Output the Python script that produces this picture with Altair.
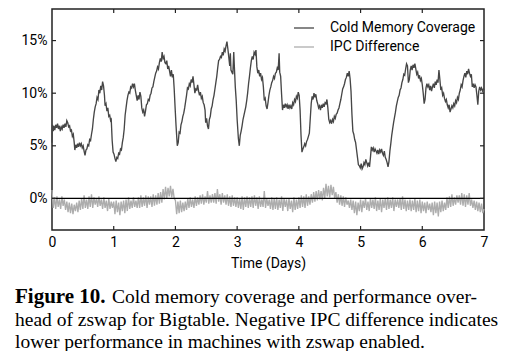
import altair as alt
import pandas as pd

# ---------------- data ----------------
# Cold memory coverage (%), (day, value) pairs
COLD = [
    (0.000, 5.3), (0.008, 7.0), (0.020, 6.4), (0.030, 6.9), (0.045, 6.5), (0.060, 7.0),
    (0.075, 6.7), (0.090, 7.1), (0.105, 6.6), (0.120, 6.9), (0.135, 6.4), (0.150, 6.8),
    (0.165, 6.6), (0.180, 7.0), (0.195, 6.7), (0.210, 7.1), (0.225, 6.8), (0.240, 7.4),
    (0.255, 7.2), (0.270, 6.8), (0.285, 6.9), (0.300, 6.4), (0.315, 6.5), (0.330, 5.9),
    (0.345, 6.1), (0.360, 5.3), (0.370, 4.6), (0.385, 5.1), (0.400, 4.8), (0.415, 5.2),
    (0.430, 4.9), (0.445, 5.3), (0.460, 5.0), (0.475, 5.2), (0.490, 4.8), (0.505, 5.0),
    (0.520, 4.5), (0.535, 4.1), (0.550, 4.6), (0.565, 4.7), (0.580, 5.1), (0.595, 5.0),
    (0.610, 5.6), (0.625, 5.5), (0.640, 6.1), (0.655, 6.6), (0.670, 7.5), (0.685, 8.2),
    (0.700, 8.7), (0.715, 9.0), (0.730, 9.6), (0.745, 9.4), (0.760, 10.3), (0.775, 10.0),
    (0.790, 10.7), (0.805, 10.3), (0.820, 11.1), (0.835, 10.7), (0.850, 9.8), (0.860, 8.8),
    (0.875, 9.0), (0.890, 8.3), (0.905, 8.6), (0.920, 7.8), (0.935, 7.9), (0.950, 7.4),
    (0.960, 7.5), (0.975, 5.5), (0.990, 4.4), (1.005, 4.2), (1.020, 3.8), (1.035, 3.5),
    (1.050, 3.9), (1.065, 3.8), (1.080, 4.3), (1.095, 4.2), (1.110, 4.7), (1.125, 4.6),
    (1.140, 5.3), (1.155, 5.8), (1.170, 6.6), (1.185, 7.9), (1.200, 8.6), (1.215, 9.3),
    (1.230, 9.8), (1.245, 10.1), (1.260, 10.0), (1.275, 10.6), (1.290, 10.5), (1.305, 10.9),
    (1.320, 10.6), (1.335, 10.9), (1.350, 10.3), (1.365, 9.8), (1.380, 9.3), (1.395, 9.8),
    (1.410, 9.4), (1.425, 10.1), (1.440, 9.7), (1.455, 8.6), (1.470, 8.2), (1.485, 8.4),
    (1.500, 7.8), (1.515, 8.3), (1.530, 8.9), (1.545, 9.0), (1.560, 9.4), (1.575, 9.3),
    (1.590, 9.8), (1.605, 10.0), (1.620, 10.5), (1.635, 10.6), (1.650, 11.1), (1.665, 11.5),
    (1.680, 11.9), (1.695, 12.1), (1.710, 12.5), (1.725, 12.3), (1.740, 12.9), (1.755, 13.3),
    (1.770, 13.0), (1.785, 13.9), (1.800, 13.3), (1.815, 13.5), (1.830, 12.9), (1.845, 12.8),
    (1.860, 13.1), (1.875, 12.3), (1.890, 12.6), (1.905, 12.1), (1.920, 11.6), (1.935, 12.2),
    (1.950, 11.5), (1.965, 11.8), (1.980, 10.4), (1.995, 8.6), (2.010, 6.9), (2.030, 5.0),
    (2.045, 5.3), (2.060, 6.3), (2.075, 6.2), (2.090, 7.0), (2.105, 7.3), (2.120, 7.8),
    (2.135, 8.1), (2.150, 8.6), (2.165, 9.2), (2.180, 9.8), (2.195, 10.5), (2.210, 10.4),
    (2.225, 10.9), (2.240, 10.7), (2.255, 11.3), (2.270, 11.0), (2.285, 11.6), (2.300, 10.8),
    (2.315, 10.0), (2.330, 10.4), (2.345, 10.3), (2.360, 10.8), (2.375, 10.2), (2.390, 9.8),
    (2.405, 10.1), (2.420, 9.5), (2.435, 9.7), (2.450, 9.1), (2.465, 8.9), (2.480, 8.4),
    (2.490, 7.2), (2.505, 7.6), (2.520, 6.9), (2.535, 6.6), (2.550, 7.5), (2.565, 7.8),
    (2.580, 8.5), (2.595, 8.8), (2.610, 9.4), (2.625, 9.8), (2.640, 10.4), (2.655, 11.0),
    (2.670, 11.6), (2.685, 12.4), (2.700, 13.1), (2.715, 13.2), (2.730, 13.5), (2.745, 13.4),
    (2.760, 13.9), (2.775, 13.6), (2.790, 14.2), (2.805, 14.0), (2.820, 14.5), (2.835, 14.9),
    (2.850, 14.2), (2.865, 13.4), (2.880, 12.6), (2.890, 13.8), (2.900, 12.2), (2.915, 12.0),
    (2.930, 11.8), (2.945, 13.9), (2.955, 12.5), (2.970, 10.6), (2.985, 9.3), (3.000, 7.5),
    (3.020, 5.7), (3.035, 5.0), (3.050, 6.0), (3.065, 6.4), (3.080, 6.9), (3.095, 7.5),
    (3.110, 7.9), (3.125, 8.3), (3.140, 8.7), (3.155, 9.3), (3.170, 10.0), (3.185, 10.9),
    (3.200, 11.6), (3.215, 12.4), (3.230, 13.1), (3.245, 13.5), (3.260, 13.2), (3.275, 13.9),
    (3.290, 13.7), (3.305, 14.1), (3.320, 12.5), (3.335, 11.9), (3.350, 12.2), (3.365, 11.6),
    (3.380, 11.9), (3.395, 11.3), (3.410, 11.5), (3.425, 10.6), (3.440, 9.3), (3.455, 9.5),
    (3.470, 8.8), (3.485, 8.5), (3.500, 9.1), (3.515, 9.8), (3.530, 10.3), (3.545, 10.6),
    (3.560, 11.0), (3.575, 11.2), (3.590, 11.6), (3.605, 11.4), (3.620, 11.9), (3.635, 12.0),
    (3.650, 12.4), (3.665, 12.2), (3.680, 13.8), (3.690, 12.0), (3.705, 11.6), (3.720, 9.9),
    (3.735, 8.4), (3.750, 8.9), (3.765, 8.6), (3.780, 9.0), (3.795, 8.7), (3.810, 8.9),
    (3.825, 8.5), (3.840, 8.9), (3.855, 8.6), (3.870, 8.8), (3.885, 8.5), (3.900, 9.1),
    (3.915, 8.9), (3.930, 9.4), (3.945, 9.2), (3.960, 9.7), (3.975, 9.5), (3.990, 10.1),
    (4.005, 9.8), (4.020, 8.4), (4.035, 6.0), (4.050, 4.4), (4.065, 4.7), (4.080, 4.9),
    (4.095, 5.2), (4.110, 5.0), (4.125, 5.4), (4.140, 5.6), (4.155, 5.9), (4.170, 6.2),
    (4.185, 7.6), (4.200, 9.0), (4.215, 9.7), (4.230, 9.4), (4.245, 10.0), (4.260, 9.6),
    (4.275, 9.9), (4.290, 9.3), (4.305, 9.0), (4.320, 8.6), (4.335, 8.8), (4.350, 8.4),
    (4.365, 8.9), (4.380, 8.6), (4.395, 9.0), (4.410, 8.7), (4.425, 9.1), (4.440, 9.0),
    (4.455, 9.4), (4.470, 8.6), (4.485, 7.5), (4.500, 7.2), (4.515, 7.4), (4.530, 7.1),
    (4.545, 7.5), (4.560, 7.3), (4.575, 7.8), (4.590, 7.6), (4.605, 8.0), (4.620, 8.1),
    (4.635, 8.4), (4.650, 8.6), (4.665, 9.0), (4.680, 9.4), (4.695, 9.9), (4.710, 10.4),
    (4.725, 10.6), (4.740, 10.9), (4.755, 11.3), (4.770, 11.5), (4.785, 11.9), (4.800, 11.6),
    (4.815, 12.1), (4.830, 11.4), (4.845, 10.2), (4.860, 8.0), (4.875, 6.4), (4.890, 6.1),
    (4.905, 5.6), (4.920, 5.3), (4.935, 4.6), (4.950, 3.9), (4.965, 3.2), (4.980, 3.1),
    (4.995, 2.9), (5.010, 3.3), (5.025, 2.8), (5.040, 3.0), (5.055, 3.4), (5.070, 3.2),
    (5.085, 3.7), (5.100, 3.4), (5.115, 3.1), (5.130, 3.4), (5.145, 3.0), (5.160, 3.9),
    (5.175, 4.9), (5.190, 4.6), (5.205, 4.8), (5.220, 4.4), (5.235, 4.7), (5.250, 4.5),
    (5.265, 4.3), (5.280, 4.6), (5.295, 4.2), (5.310, 4.6), (5.325, 4.4), (5.340, 4.7),
    (5.355, 4.3), (5.370, 4.1), (5.385, 4.5), (5.400, 3.9), (5.415, 3.7), (5.430, 3.4),
    (5.445, 3.0), (5.460, 3.5), (5.475, 4.5), (5.490, 5.2), (5.505, 6.0), (5.520, 6.6),
    (5.535, 7.2), (5.550, 7.7), (5.565, 8.2), (5.580, 8.8), (5.595, 9.2), (5.610, 9.6),
    (5.625, 9.8), (5.640, 10.3), (5.655, 10.5), (5.670, 11.0), (5.685, 11.3), (5.700, 11.8),
    (5.715, 11.7), (5.730, 12.3), (5.745, 12.8), (5.760, 12.6), (5.775, 11.0), (5.790, 11.3),
    (5.805, 12.2), (5.820, 12.6), (5.835, 12.2), (5.850, 12.7), (5.865, 12.4), (5.880, 12.8),
    (5.895, 12.3), (5.910, 11.8), (5.925, 12.0), (5.940, 11.4), (5.955, 11.7), (5.970, 11.2),
    (5.985, 11.4), (6.000, 10.8), (6.015, 10.0), (6.030, 9.0), (6.045, 9.4), (6.060, 10.5),
    (6.075, 10.9), (6.090, 10.6), (6.105, 10.8), (6.120, 10.3), (6.135, 10.7), (6.150, 10.2),
    (6.165, 10.6), (6.180, 10.9), (6.195, 10.5), (6.210, 11.1), (6.225, 10.8), (6.240, 11.3),
    (6.255, 11.0), (6.270, 12.2), (6.285, 11.3), (6.300, 10.3), (6.315, 10.5), (6.330, 9.8),
    (6.345, 10.0), (6.360, 9.5), (6.375, 9.2), (6.390, 9.4), (6.405, 8.9), (6.420, 8.6),
    (6.435, 8.9), (6.450, 8.2), (6.465, 8.5), (6.480, 8.8), (6.495, 8.6), (6.510, 9.0),
    (6.525, 8.8), (6.540, 9.3), (6.555, 9.1), (6.570, 9.6), (6.585, 9.4), (6.600, 10.0),
    (6.615, 10.3), (6.630, 10.8), (6.645, 10.6), (6.660, 11.2), (6.675, 11.6), (6.690, 11.9),
    (6.705, 11.5), (6.720, 12.1), (6.735, 11.8), (6.750, 12.3), (6.765, 11.9), (6.780, 11.6),
    (6.795, 11.8), (6.810, 10.6), (6.825, 10.9), (6.840, 10.5), (6.855, 10.8), (6.870, 10.6),
    (6.885, 9.8), (6.900, 8.9), (6.915, 10.2), (6.930, 10.6), (6.945, 10.3), (6.960, 10.5),
    (6.975, 10.2), (6.990, 10.4), (7.000, 10.3),
]

# IPC difference (%), sampled every IPC_STEP days from day 0
IPC_STEP = 0.02
IPC = [
    0.8, -0.9, 0.1, -1.0, 0.2, -0.8, -0.1, -1.0, 0.2, -0.7,
    -0.1, -1.1, -0.3, -1.3, -0.4, -1.4, -0.5, -1.5, -0.6, -1.2,
    -0.4, -1.3, -0.2, -1.1, 0.0, -1.0, 0.3, -0.9, -0.1, -1.0,
    0.2, -0.8, 0.4, -0.9, 0.1, -0.6, 0.0, -0.8, 0.2, -0.7,
    -0.1, -1.0, 0.1, -0.9, -0.2, -1.2, 0.0, -1.0, -0.3, -0.9,
    -0.3, -1.5, -0.2, -1.3, -0.4, -1.6, -0.3, -1.2, -0.2, -1.4,
    -0.1, -1.2, 0.1, -1.0, -0.2, -0.9, 0.1, -0.8, -0.2, -0.9,
    0.1, -0.9, 0.3, -0.8, 0.1, -0.7, 0.3, -0.9, 0.2, -0.6,
    0.2, -0.8, 0.4, -0.7, 0.3, -0.6, 0.5, -0.5, 0.6, -0.4,
    0.9, -0.1, 1.1, 0.0, 1.0, 0.2, 1.2, 0.1, 0.9, 0.0,
    -0.2, -1.5, -0.3, -1.4, -0.2, -1.3, -0.4, -1.2, -0.3, -1.1,
    0.0, -0.9, 0.1, -0.8, -0.1, -0.9, 0.2, -0.7, 0.1, -0.6,
    0.3, -0.5, 0.4, -0.6, 0.2, -0.4, 0.7, -0.5, 0.3, -0.4,
    0.4, -0.4, 0.5, -0.5, 0.9, -0.3, 0.4, -0.6, 0.5, -0.4,
    0.3, -0.6, 0.4, -0.7, 0.2, -0.8, 0.3, -0.7, 0.1, -0.8,
    0.1, -0.9, 0.0, -1.0, 0.2, -1.1, 0.1, -0.8, 0.2, -0.9,
    0.1, -0.8, 0.2, -0.9, 0.3, -0.7, 0.1, -1.0, 0.2, -0.8,
    -0.1, -0.8, 0.7, -0.9, 0.0, -0.7, -0.1, -1.0, 0.1, -1.1,
    0.0, -1.0, 0.1, -1.1, -0.1, -0.9, 0.2, -1.2, 0.0, -0.8,
    -0.1, -1.2, 0.0, -1.0, -0.2, -1.3, 0.1, -1.1, -0.1, -1.0,
    0.1, -0.9, 0.3, -0.8, 0.2, -0.9, 0.4, -0.7, 0.2, -0.6,
    0.4, -0.4, 0.6, -0.3, 0.7, -0.2, 0.8, -0.1, 0.7, -0.2,
    1.0, 0.0, 1.4, 0.2, 1.2, 0.1, 1.3, 0.3, 1.1, 0.0,
    0.6, -0.4, 0.4, -0.6, 0.3, -0.7, 0.2, -0.8, 0.1, -0.6,
    -0.2, -0.9, -0.1, -1.1, -0.2, -1.4, -0.3, -1.6, -0.4, -1.2,
    -0.1, -1.3, -0.2, -0.9, 0.0, -1.1, -0.3, -1.2, 0.0, -0.9,
    -0.1, -1.0, 0.1, -1.2, -0.2, -1.1, 0.0, -1.3, -0.1, -0.9,
    0.0, -1.1, 0.1, -1.0, -0.1, -0.9, 0.1, -1.2, -0.1, -0.8,
    -0.1, -0.9, 0.0, -1.1, 0.2, -1.0, -0.1, -1.2, -0.2, -1.1,
    -0.1, -1.2, -0.2, -1.1, 0.0, -1.3, -0.2, -1.2, -0.1, -1.4,
    -0.3, -1.2, -0.4, -1.4, -0.3, -1.1, -0.5, -1.3, -0.4, -1.6,
    -0.3, -1.4, -0.4, -1.7, -0.3, -1.3, -0.2, -1.2, -0.4, -1.1,
    0.1, -0.9, 0.2, -0.8, 0.4, -0.7, 0.1, -0.6, 0.3, -0.4,
    0.3, -0.6, 0.5, -0.7, 0.4, -0.8, 0.3, -0.6, 0.5, -0.7,
    -0.1, -0.9, -0.2, -1.1, -0.3, -1.2, -0.4, -1.3, -0.5, -1.4,
    -1.0,
]

SERIES = ["Cold Memory Coverage", "IPC Difference"]
COLORS = ["#464646", "#adadad"]
X_TICKS = [0, 1, 2, 3, 4, 5, 6, 7]
Y_TICKS = [0, 5, 10, 15]
X_DOMAIN = [0, 7]
Y_DOMAIN = [-3, 18]

CAPTION_BOLD = "Figure 10."
CAPTION_1 = "Cold memory coverage and performance over-"
CAPTION_2 = "head of zswap for Bigtable. Negative IPC difference indicates"
CAPTION_3 = "lower performance in machines with zswap enabled."

# ---------------- chart ----------------
W, H = 432, 221
TICK = 4

cold_df = pd.DataFrame(COLD, columns=["day", "pct"])
cold_df["series"] = SERIES[0]
ipc_df = pd.DataFrame({"day": [round(i * IPC_STEP, 4) for i in range(len(IPC))], "pct": IPC})
ipc_df["series"] = SERIES[1]
lines_df = pd.concat([cold_df, ipc_df], ignore_index=True)

x_scale = alt.Scale(domain=X_DOMAIN, nice=False, zero=False)
y_scale = alt.Scale(domain=Y_DOMAIN, nice=False, zero=False)
x_axis = alt.Axis(values=X_TICKS, format="d", ticks=False, domain=False, grid=False,
                  labelFlush=False, labelPadding=5, title="Time (Days)", titlePadding=7)
y_axis = alt.Axis(values=Y_TICKS, labelExpr="datum.value + '%'", ticks=False, domain=False,
                  grid=False, labelPadding=5, title=None)

X = lambda: alt.X("day:Q", scale=x_scale, axis=x_axis)
Y = lambda: alt.Y("pct:Q", scale=y_scale, axis=y_axis)

lines = alt.Chart(lines_df).mark_line(strokeWidth=1.35).encode(
    x=X(), y=Y(),
    color=alt.Color("series:N", scale=alt.Scale(domain=SERIES, range=COLORS),
                    legend=alt.Legend(title=None, orient="none", legendX=241, legendY=8,
                                      symbolType="stroke", symbolSize=400, symbolStrokeWidth=1.3,
                                      labelFont="Roboto", labelFontSize=14, labelColor="black",
                                      labelOffset=15, rowPadding=1, padding=0)),
    order="day:Q",
)

zero = alt.Chart(pd.DataFrame({"pct": [0]})).mark_rule(color="black", strokeWidth=1.3).encode(y=Y())

xt = pd.DataFrame({"day": X_TICKS[1:-1]})
yt = pd.DataFrame({"pct": Y_TICKS})
tick_style = dict(color="#222222", strokeWidth=1.2)
ticks_bottom = alt.Chart(xt).mark_rule(**tick_style).encode(x=X(), y=alt.value(H), y2=alt.value(H - TICK))
ticks_top = alt.Chart(xt).mark_rule(**tick_style).encode(x=X(), y=alt.value(0), y2=alt.value(TICK))
ticks_left = alt.Chart(yt).mark_rule(**tick_style).encode(y=Y(), x=alt.value(0), x2=alt.value(TICK))
ticks_right = alt.Chart(yt).mark_rule(**tick_style).encode(y=Y(), x=alt.value(W), x2=alt.value(W - TICK))


def caption(text, x, y, bold=False, size=19.5):
    return alt.Chart(pd.DataFrame({"t": [text]})).mark_text(
        align="left", baseline="alphabetic", font="Liberation Serif", fontSize=size,
        fontWeight="bold" if bold else "normal", color="black",
    ).encode(text="t:N", x=alt.value(x), y=alt.value(y))


cap = [
    caption(CAPTION_BOLD, -37, 294, bold=True, size=21),
    caption(CAPTION_1, 60, 294),
    caption(CAPTION_2, -37, 317),
    caption(CAPTION_3, -37, 339),
]

chart = alt.layer(
    lines, zero, ticks_bottom, ticks_top, ticks_left, ticks_right, *cap
).properties(
    width=W, height=H,
    autosize=alt.AutoSizeParams(type="none"),
    padding={"left": 44, "top": 1, "right": 19, "bottom": 121},
).configure_view(
    stroke="#222222", strokeWidth=1.5,
).configure_axis(
    labelFont="Roboto", labelFontSize=14, labelColor="black",
    titleFont="Roboto", titleFontSize=14, titleFontWeight="normal", titleColor="black",
)

chart.save("out.html", embed_options={"renderer": "svg", "actions": False})
